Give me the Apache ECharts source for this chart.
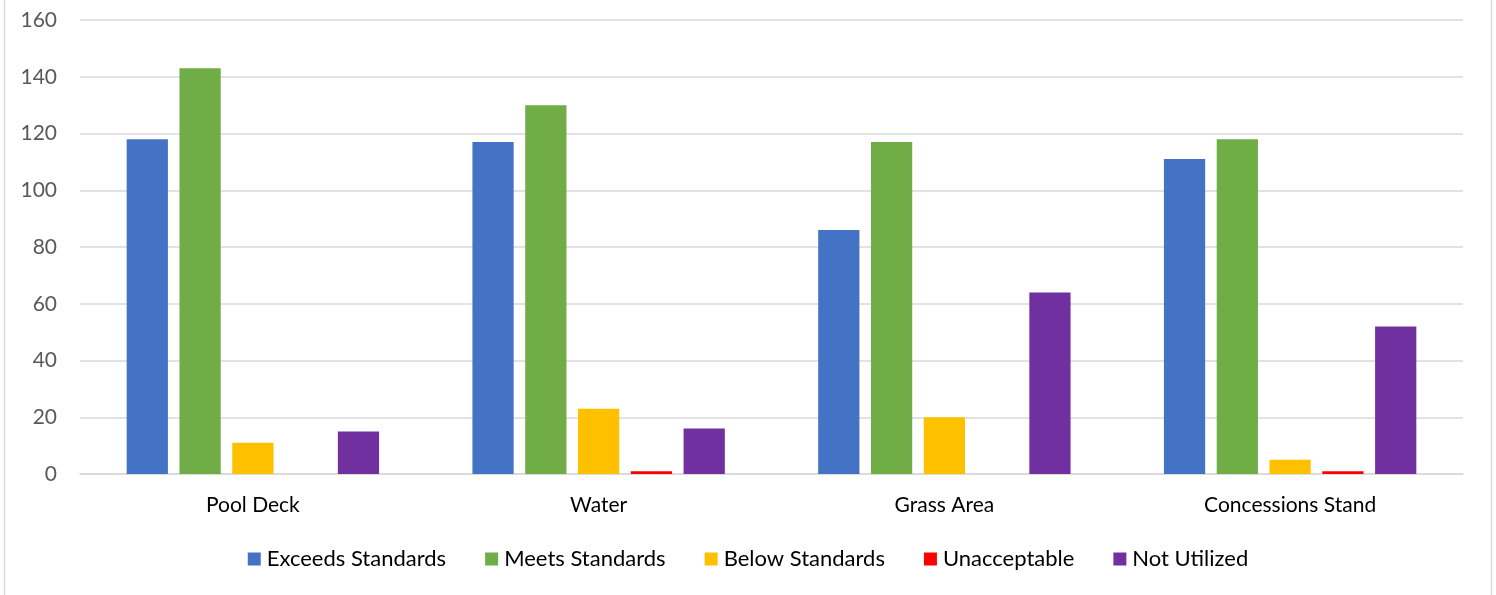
<!DOCTYPE html>
<html>
<head>
<meta charset="utf-8">
<script src="https://cdn.jsdelivr.net/npm/echarts@6/dist/echarts.min.js"></script>
<style>
  html, body { margin: 0; padding: 0; background: #fff; }
  #chart { width: 1496px; height: 595px; }
</style>
</head>
<body>
<div id="chart"></div>
<script>
// Survey ratings per facility area
const categories = ['Pool Deck', 'Water', 'Grass Area', 'Concessions Stand'];
const exceedsStandards = [118, 117, 86, 111];
const meetsStandards = [143, 130, 117, 118];
const belowStandards = [11, 23, 20, 5];
const unacceptable = [0, 1, 0, 1];
const notUtilized = [15, 16, 64, 52];
const yTicks = { min: 0, max: 160, interval: 20 };

const seriesDefs = [
  { name: 'Exceeds Standards', data: exceedsStandards, color: '#4472C4' },
  { name: 'Meets Standards', data: meetsStandards, color: '#70AD47' },
  { name: 'Below Standards', data: belowStandards, color: '#FFC000' },
  { name: 'Unacceptable', data: unacceptable, color: '#FF0000' },
  { name: 'Not Utilized', data: notUtilized, color: '#7030A0' }
];

const fontFamily = 'Lato, "Open Sans", sans-serif';
const chart = echarts.init(document.getElementById('chart'), null, { renderer: 'canvas' });

chart.setOption({
  animation: false,
  backgroundColor: '#ffffff',
  textStyle: { fontFamily },
  graphic: [{
    type: 'rect',
    shape: { x: 4.5, y: -10, width: 1487, height: 620 },
    style: { fill: 'none', stroke: '#d9d9d9', lineWidth: 1.5 },
    silent: true
  }],
  grid: { left: 80, right: 33, top: 20, bottom: 121, containLabel: false },
  legend: {
    bottom: 20,
    left: 'center',
    itemWidth: 13,
    itemHeight: 13,
    itemGap: 39,
    icon: 'rect',
    textStyle: { fontSize: 22, color: '#000000', fontFamily, padding: [0, 0, 0, 1] },
    data: seriesDefs.map(s => s.name)
  },
  xAxis: {
    type: 'category',
    data: categories,
    axisLine: { lineStyle: { color: '#d9d9d9', width: 1.5 } },
    axisTick: { show: false },
    axisLabel: { color: '#000000', fontSize: 21, margin: 21, fontFamily }
  },
  yAxis: {
    type: 'value',
    min: yTicks.min,
    max: yTicks.max,
    interval: yTicks.interval,
    axisLine: { show: false },
    axisTick: { show: false },
    splitLine: { lineStyle: { color: '#d9d9d9', width: 1.5 } },
    axisLabel: { color: '#595959', fontSize: 21, margin: 23, fontFamily }
  },
  series: seriesDefs.map(s => ({
    name: s.name,
    type: 'bar',
    data: s.data,
    itemStyle: { color: s.color },
    barGap: '28%',
    barCategoryGap: '27%'
  }))
});
</script>
</body>
</html>
